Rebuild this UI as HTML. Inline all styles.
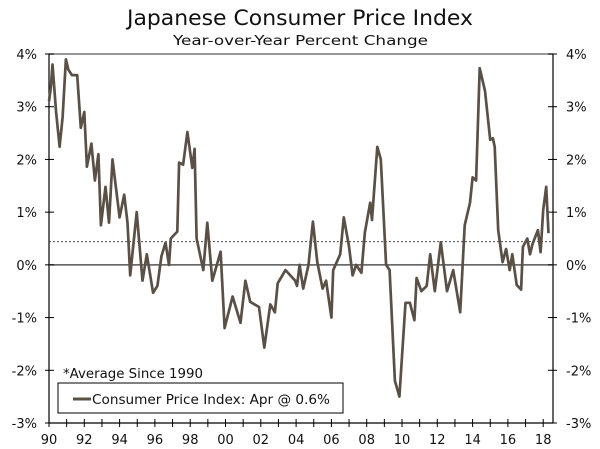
<!DOCTYPE html>
<html><head><meta charset="utf-8"><style>
body{margin:0;background:#fff;}
svg{display:block;font-family:"DejaVu Sans","Liberation Sans",sans-serif;}
</style></head><body>
<svg id="chart" width="600" height="449" viewBox="0 0 600 449">
<text x="127" y="25" font-size="21" fill="#111" textLength="346" lengthAdjust="spacingAndGlyphs">Japanese Consumer Price Index</text>
<text x="173" y="45" font-size="13" fill="#111" textLength="255" lengthAdjust="spacingAndGlyphs">Year-over-Year Percent Change</text>
<g id="axes"></g>
<g id="series"></g>
<text x="63" y="378" font-size="13" fill="#111" textLength="140" lengthAdjust="spacingAndGlyphs">*Average Since 1990</text>
<g>
<rect x="58" y="383" width="285" height="30" fill="#fff" stroke="#000" stroke-width="1"/>
<line x1="73" y1="399" x2="91" y2="399" stroke="#5a5046" stroke-width="3"/>
<text x="92" y="404" font-size="13" fill="#111" textLength="238" lengthAdjust="spacingAndGlyphs">Consumer Price Index: Apr @ 0.6%</text>
</g>
</svg>
<script>
const dates=[1990.0,1990.1,1990.2,1990.4,1990.6,1990.77,1990.96,1991.1,1991.3,1991.6,1991.8,1992.0,1992.15,1992.4,1992.6,1992.8,1992.94,1993.2,1993.4,1993.6,1994.0,1994.26,1994.45,1994.6,1994.97,1995.3,1995.54,1995.9,1996.14,1996.37,1996.6,1996.8,1996.9,1997.27,1997.37,1997.6,1997.84,1998.12,1998.25,1998.36,1998.74,1998.97,1999.25,1999.72,1999.95,2000.4,2000.85,2001.13,2001.4,2001.9,2002.2,2002.54,2002.8,2002.96,2003.4,2003.67,2003.95,2004.05,2004.2,2004.4,2004.7,2004.95,2005.2,2005.5,2005.7,2006.0,2006.1,2006.5,2006.7,2007.0,2007.2,2007.4,2007.7,2007.9,2008.2,2008.3,2008.6,2008.8,2009.1,2009.3,2009.6,2009.85,2010.2,2010.45,2010.7,2010.83,2011.1,2011.4,2011.6,2011.86,2012.2,2012.55,2012.9,2013.3,2013.55,2013.85,2014.0,2014.2,2014.4,2014.7,2015.0,2015.15,2015.25,2015.45,2015.7,2015.9,2016.1,2016.25,2016.5,2016.75,2016.85,2017.1,2017.25,2017.4,2017.7,2017.85,2018.0,2018.17,2018.3];
const values=[3.1,3.36,3.8,2.9,2.24,2.8,3.9,3.7,3.6,3.6,2.6,2.9,1.86,2.3,1.6,2.1,0.75,1.48,0.8,2.0,0.9,1.33,0.8,-0.2,1.0,-0.3,0.2,-0.53,-0.4,0.16,0.42,0.0,0.5,0.63,1.94,1.9,2.52,1.84,2.2,0.5,-0.1,0.8,-0.3,0.25,-1.2,-0.6,-1.1,-0.3,-0.7,-0.8,-1.57,-0.75,-0.9,-0.35,-0.1,-0.2,-0.3,-0.4,0.0,-0.45,0.0,0.82,0.05,-0.45,-0.3,-1.0,-0.1,0.2,0.9,0.35,-0.2,0.0,-0.15,0.62,1.18,0.85,2.24,2.0,0.0,-0.1,-2.2,-2.5,-0.72,-0.72,-1.05,-0.25,-0.5,-0.4,0.2,-0.5,0.43,-0.5,-0.1,-0.9,0.75,1.18,1.66,1.6,3.73,3.3,2.37,2.4,2.24,0.66,0.05,0.3,-0.1,0.2,-0.38,-0.47,0.34,0.5,0.2,0.4,0.66,0.24,1.04,1.48,0.6];
const yTicks=[4,3,2,1,0,-1,-2,-3];
const xLabels=["90","92","94","96","98","00","02","04","06","08","10","12","14","16","18"];
const average=0.44;

const NS="http://www.w3.org/2000/svg";
const L=49,R=553,T=54,B=423;
const xs=d=>L+(d-1990)*17.65;
const ys=v=>T+(4-v)*(B-T)/7;
function mk(tag,attrs,parent){const e=document.createElementNS(NS,tag);for(const k in attrs)e.setAttribute(k,attrs[k]);parent.appendChild(e);return e;}
const ax=document.getElementById('axes');
let e;
e=mk('line',{x1:L,y1:T,x2:R,y2:T,stroke:'#777','stroke-width':1.5},ax);


e=mk('line',{x1:L,y1:T,x2:L,y2:B,stroke:'#000','stroke-width':1.2},ax);


e=mk('line',{x1:R,y1:T,x2:R,y2:B,stroke:'#000','stroke-width':1.2},ax);


e=mk('line',{x1:L,y1:B,x2:R,y2:B,stroke:'#000','stroke-width':1.2},ax);


e=mk('line',{x1:L,y1:ys(0),x2:R,y2:ys(0),stroke:'#555','stroke-width':1.5},ax);


e=mk('line',{x1:L,y1:ys(average),x2:R,y2:ys(average),stroke:'#333','stroke-width':0.8,'stroke-dasharray':'2,2'},ax);


yTicks.forEach(v=>{
  const y=ys(v);
  e=mk('line',{x1:L-4,y1:y,x2:L+5,y2:y,stroke:'#000'},ax);
  
  
  e=mk('line',{x1:R-5,y1:y,x2:R+4,y2:y,stroke:'#000'},ax);
  
  
  e=mk('text',{x:37,y:y+5,'text-anchor':'end','font-size':13,fill:'#111'},ax);
  e.textContent=v+'%';
  
  
  e=mk('text',{x:566,y:y+5,'font-size':13,fill:'#111'},ax);
  e.textContent=v+'%';
  
  
});
for(let yr=1990;yr<=2018;yr++){
  const x=xs(yr);
  e=mk('line',{x1:x,y1:B-4,x2:x,y2:B+4,stroke:'#000'},ax);
  
  
}
xLabels.forEach((lab,i)=>{
  e=mk('text',{x:xs(1990+2*i),y:444,'text-anchor':'middle','font-size':13,fill:'#111'},ax);
  e.textContent=lab;
  
  
});
const pts=dates.map((d,i)=>xs(d).toFixed(1)+','+ys(values[i]).toFixed(1)).join(' ');
e=mk('polyline',{points:pts,fill:'none',stroke:'#5a5046','stroke-width':2.7,'stroke-linejoin':'round'},document.getElementById('series'));


</script>
</body></html>
